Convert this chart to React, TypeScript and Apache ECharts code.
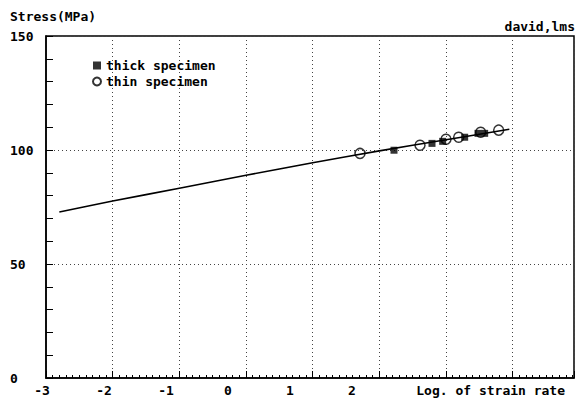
import React, { useEffect, useRef } from "react";
import * as echarts from "echarts";

const xTickLabels = [-3, -2, -1, 0, 1, 2];
const yTickValues = [0, 50, 100, 150];

const fitLineX = [-2.8, -2.0, -1.0, 0.0, 1.0, 2.0, 3.0, 3.95];
const fitLineY = [72.8, 77.6, 83.2, 88.9, 94.4, 99.6, 104.5, 109.1];

const thickX = [2.22, 2.79, 2.95, 3.28, 3.48, 3.58];
const thickY = [99.9, 102.9, 103.8, 105.6, 107.3, 107.3];

const thinX = [1.71, 2.61, 3.0, 3.19, 3.52, 3.79];
const thinY = [98.5, 102.1, 104.7, 105.6, 107.8, 108.7];

const FONT = "DejaVu Sans Mono";

export default function App() {
  const ref = useRef<HTMLDivElement>(null);
  useEffect(() => {
    if (!ref.current) return;
    const chart = echarts.init(ref.current, undefined, { renderer: "svg" });
    const zip = (xs: number[], ys: number[]) => xs.map((x, i) => [x, ys[i]]);
    chart.setOption({
      animation: false,
      backgroundColor: "#ffffff",
      grid: [
        { left: 46, right: 7, top: 36, bottom: 23, show: true, borderColor: "#000", borderWidth: 1.5, backgroundColor: "transparent" },
        { left: 42, right: 7, top: 36, bottom: 23, show: false },
      ],
      xAxis: [
        {
          type: "value",
          gridIndex: 0,
          min: -3,
          max: 4.92,
          interval: 1,
          axisLine: { show: true, onZero: false, lineStyle: { color: "#000", width: 1.5 } },
          axisTick: { show: true, inside: true, length: 7, lineStyle: { color: "#000" } },
          minorTick: { show: true, splitNumber: 10, length: 3, lineStyle: { color: "#000" } },
          axisLabel: { show: false },
          splitLine: { show: true, lineStyle: { color: "#444", type: [1, 3], width: 1 } },
        },
        {
          type: "value",
          gridIndex: 1,
          min: -3,
          max: 5.58,
          interval: 1,
          axisLine: { show: false, onZero: false },
          axisTick: { show: false },
          splitLine: { show: false },
          axisLabel: {
            show: true,
            margin: 6,
            color: "#000",
            fontFamily: FONT,
            fontWeight: "bold",
            fontSize: 13,
            formatter: (v: number) => (xTickLabels.includes(Math.round(v)) && Math.abs(v - Math.round(v)) < 1e-6 ? String(Math.round(v)) : ""),
            showMaxLabel: false,
          },
        },
      ],
      yAxis: [
        {
          type: "value",
          gridIndex: 0,
          min: 0,
          max: 150,
          interval: 50,
          axisLine: { show: true, onZero: false, lineStyle: { color: "#000", width: 1.5 } },
          axisTick: { show: true, inside: true, length: 7, lineStyle: { color: "#000" } },
          minorTick: { show: true, splitNumber: 5, length: 7, lineStyle: { color: "#000" } },
          axisLabel: {
            show: true,
            align: "left",
            margin: 36,
            color: "#000",
            fontFamily: FONT,
            fontWeight: "bold",
            fontSize: 13,
            formatter: (v: number) => (yTickValues.includes(v) ? String(v) : ""),
          },
          splitLine: { show: true, lineStyle: { color: "#444", type: [1, 3], width: 1 } },
        },
        { type: "value", gridIndex: 1, min: 0, max: 150, show: false, axisLine: { onZero: false } },
      ],
      legend: {
        orient: "vertical",
        left: 87,
        top: 54,
        itemWidth: 8,
        itemHeight: 8,
        itemGap: 3,
        textStyle: { color: "#000", fontFamily: FONT, fontWeight: "bold", fontSize: 13 },
        data: [
          { name: "thick specimen", icon: "rect" },
          { name: "thin specimen", icon: "circle" },
        ],
      },
      graphic: [
        { type: "text", left: 10, top: 10, style: { text: "Stress(MPa)", fill: "#000", font: `bold 13px '${FONT}'` } },
        { type: "text", right: 6, top: 20, style: { text: "david,lms", fill: "#000", font: `bold 13px '${FONT}'` } },
        { type: "text", right: 16, top: 384, style: { text: "Log. of strain rate", fill: "#000", font: `bold 13px '${FONT}'` } },
      ],
      series: [
        {
          name: "fit",
          type: "line",
          xAxisIndex: 0,
          yAxisIndex: 0,
          data: zip(fitLineX, fitLineY),
          smooth: 0.3,
          showSymbol: false,
          lineStyle: { color: "#000", width: 1.6 },
          z: 2,
        },
        {
          name: "thick specimen",
          type: "scatter",
          xAxisIndex: 0,
          yAxisIndex: 0,
          symbol: "rect",
          symbolSize: 7,
          data: zip(thickX, thickY),
          itemStyle: { color: "#000" },
          z: 3,
        },
        {
          name: "thin specimen",
          type: "scatter",
          xAxisIndex: 0,
          yAxisIndex: 0,
          symbol: "circle",
          symbolSize: 10,
          data: zip(thinX, thinY),
          itemStyle: { color: "rgba(255,255,255,0)", borderColor: "#000", borderWidth: 1.5 },
          z: 4,
        },
      ],
    });
    return () => chart.dispose();
  }, []);
  return <div ref={ref} style={{ width: 581, height: 401, position: "absolute", left: 0, top: 0 }} />;
}
